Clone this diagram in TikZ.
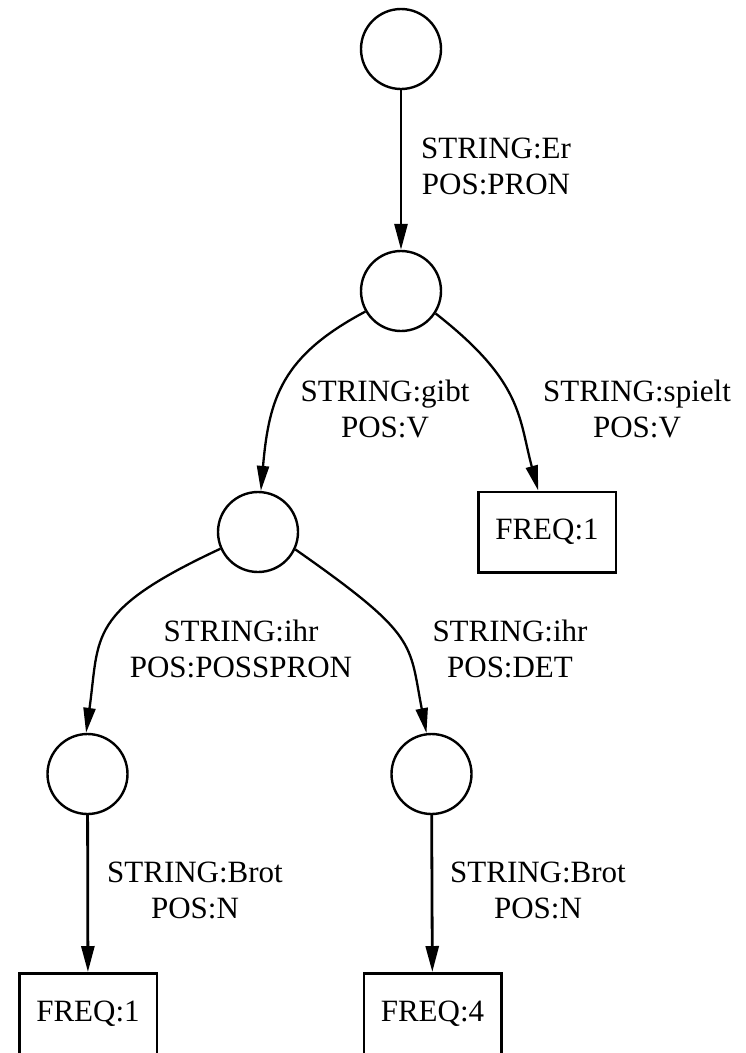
\documentclass[tikz,border=0pt]{standalone}
\usepackage{fontspec}
\setmainfont{Liberation Serif}
\usetikzlibrary{arrows.meta}
\begin{document}
\begin{tikzpicture}[x=1pt,y=1pt,
  state/.style={circle, draw, line width=2.4pt, minimum size=80pt, inner sep=0pt},
  freq/.style={rectangle, draw, line width=2.5pt, minimum width=137.5pt, minimum height=80.5pt, inner sep=0pt, font=\fontsize{31}{36}\selectfont},
  lbl/.style={anchor=north, align=center, inner sep=0pt, font=\fontsize{31}{36}\selectfont},
  cedge/.style={line width=2.3pt, -{Triangle[length=25pt,width=12pt]}},
  vedge/.style={line width=2.8pt, -{Triangle[length=26pt,width=13pt]}}]
\useasboundingbox (0,0) rectangle (745,-1053);
% nodes
\node[state] (n0) at (401,-49) {};
\node[state] (n1) at (401,-291) {};
\node[state] (n2) at (258,-532) {};
\node[freq]  (bR) at (547,-532) {FREQ:1};
\node[state] (n3) at (87.5,-774) {};
\node[state] (n4) at (431.5,-774) {};
\node[freq]  (b1) at (88,-1013.5) {FREQ:1};
\node[freq]  (b2) at (432.5,-1013.5) {FREQ:4};
% edges
\draw[vedge] (n0) -- (n1);
\draw[cedge] (n1.210) .. controls +(208:94) and +(85:94) .. (n2.86);
\draw[cedge] (n1.-33) .. controls +(-38:111) and +(105:76) .. (bR.102);
\draw[cedge] (n2.204) .. controls +(205:148) and +(82:98) .. (n3.92);
\draw[cedge] (n2.-25) .. controls +(-35:151) and +(101:92) .. (n4.97);
\draw[vedge] (n3) -- (b1);
\draw[vedge] (n4) -- (b2);
% labels
\node[lbl] (l1) at (496,-138) {STRING:Er\\POS:PRON};
\node[lbl] (l2) at (385,-380) {STRING:gibt\\POS:V};
\node[lbl] (l3) at (637,-380) {STRING:spielt\\POS:V};
\node[lbl] (l4) at (241,-620) {STRING:ihr\\POS:POSSPRON};
\node[lbl] (l5) at (510,-620) {STRING:ihr\\POS:DET};
\node[lbl] (l6) at (195,-862) {STRING:Brot\\POS:N};
\node[lbl] (l7) at (538,-862) {STRING:Brot\\POS:N};
\end{tikzpicture}
\end{document}
